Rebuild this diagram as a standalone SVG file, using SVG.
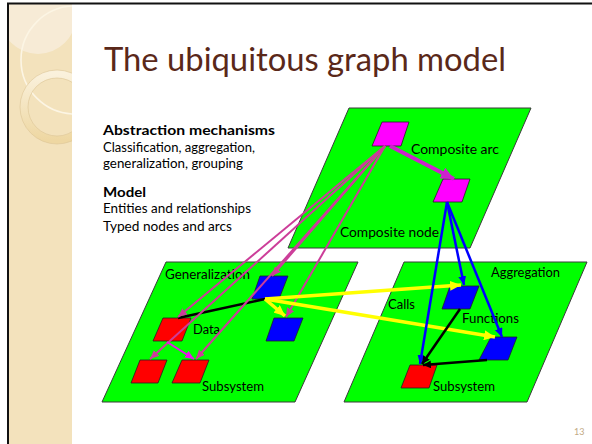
<svg xmlns="http://www.w3.org/2000/svg" width="592" height="444" viewBox="0 0 592 444">
<style>
.plane{fill:#00FF00;stroke:#3a3a3a;stroke-width:1}
.red{fill:#FF0000;stroke:#222;stroke-width:0.8}
.blue{fill:#0000FF;stroke:#222;stroke-width:0.8}
.mag{fill:#FF00FF;stroke:#222;stroke-width:0.8}
.lbl{font-family:"Lato","Liberation Sans",sans-serif;font-size:13.5px;fill:#000}
.body{font-family:"Lato","Liberation Sans",sans-serif;font-size:13.5px;fill:#000}
.b{font-weight:bold}
.pink{stroke:#CC3D99;stroke-width:2;fill:none;marker-end:url(#ah-pink)}
.yel{stroke:#FFFF00;stroke-width:3.5;fill:none;marker-end:url(#ah-yel)}
.blu{stroke:#0000FF;stroke-width:2.5;fill:none;marker-end:url(#ah-blue)}
.blk{stroke:#000;stroke-width:2.5;fill:none}
.blkh{marker-end:url(#ah-blk)}
</style>
<defs>
<marker id="ah-pink" markerUnits="userSpaceOnUse" markerWidth="10" markerHeight="8" refX="9" refY="4" orient="auto"><path d="M0,0 L9,4 L0,8 z" fill="#CC3D99"/></marker>
<marker id="ah-mag" markerUnits="userSpaceOnUse" markerWidth="10" markerHeight="8" refX="9" refY="4" orient="auto"><path d="M0,0 L9,4 L0,8 z" fill="#EE11EE"/></marker>
<marker id="ah-comp" markerUnits="userSpaceOnUse" markerWidth="14" markerHeight="12" refX="13" refY="6" orient="auto"><path d="M0,0 L13,6 L0,12 z" fill="#CC22CC"/></marker>
<marker id="ah-yel" markerUnits="userSpaceOnUse" markerWidth="12" markerHeight="10" refX="11" refY="5" orient="auto"><path d="M0,0 L11,5 L0,10 z" fill="#FFFF00"/></marker>
<marker id="ah-blue" markerUnits="userSpaceOnUse" markerWidth="10" markerHeight="8" refX="9" refY="4" orient="auto"><path d="M0,0 L9,4 L0,8 z" fill="#0000FF"/></marker>
<marker id="ah-blk" markerUnits="userSpaceOnUse" markerWidth="9" markerHeight="8" refX="8" refY="4" orient="auto"><path d="M0,0 L8,4 L0,8 z" fill="#000"/></marker>
<linearGradient id="ring" x1="0" y1="0" x2="0" y2="1"><stop offset="0" stop-color="#FAF1DC"/><stop offset="1" stop-color="#EED7A2"/></linearGradient>
<clipPath id="side"><rect x="8" y="3" width="64" height="441"/></clipPath>
</defs>
<rect width="592" height="444" fill="#FFFFFF"/>
<g id="sidebar">
<rect x="8" y="3" width="64" height="441" fill="#F3E2BC"/>
<g clip-path="url(#side)">
<circle cx="38" cy="16" r="38" fill="#F7EEDC" opacity="0.8"/>
<circle cx="75" cy="60" r="54" fill="none" stroke="#FCF5E4" stroke-width="1.6"/>
<circle cx="57" cy="107" r="33" fill="none" stroke="url(#ring)" stroke-width="8"/>
<circle cx="57" cy="107" r="37" fill="none" stroke="#DCC495" stroke-width="0.6"/>
<circle cx="57" cy="107" r="29" fill="none" stroke="#DCC495" stroke-width="0.6"/>
</g>
</g>
<path d="M8,444 L8,3.5 L592,3.5" fill="none" stroke="#111" stroke-width="2"/>
<text x="104" y="71" font-family="Lato,'Liberation Sans',sans-serif" font-size="33" fill="#5A2819" textLength="402" lengthAdjust="spacingAndGlyphs">The ubiquitous graph model</text>
<g id="textblock">
<text class="body b" x="103" y="135" textLength="172" lengthAdjust="spacingAndGlyphs">Abstraction mechanisms</text>
<text class="body" x="103" y="152" textLength="152" lengthAdjust="spacingAndGlyphs">Classification, aggregation,</text>
<text class="body" x="103" y="168" textLength="140" lengthAdjust="spacingAndGlyphs">generalization, grouping</text>
<text class="body b" x="103" y="197" textLength="43" lengthAdjust="spacingAndGlyphs">Model</text>
<text class="body" x="103" y="213" textLength="148" lengthAdjust="spacingAndGlyphs">Entities and relationships</text>
<text class="body" x="103" y="231" textLength="129" lengthAdjust="spacingAndGlyphs">Typed nodes and arcs</text>
</g>
<g id="plane-top"><polygon class="plane" points="349,108 531,108 470,248 288,248"/>
<text class="lbl" x="411" y="154" textLength="88" lengthAdjust="spacingAndGlyphs">Composite arc</text>
<text class="lbl" x="340" y="237" textLength="99" lengthAdjust="spacingAndGlyphs">Composite node</text></g>
<g id="plane-left"><polygon class="plane" points="166,262 358,262 295,402 102,402"/>
<text class="lbl" x="165" y="279" textLength="85" lengthAdjust="spacingAndGlyphs">Generalization</text>
<text class="lbl" x="193" y="334" textLength="27" lengthAdjust="spacingAndGlyphs">Data</text>
<text class="lbl" x="202" y="391" textLength="62" lengthAdjust="spacingAndGlyphs">Subsystem</text></g>
<g id="plane-right"><polygon class="plane" points="404,262 587,262 527,402 344,402"/>
<text class="lbl" x="491" y="277" textLength="69" lengthAdjust="spacingAndGlyphs">Aggregation</text>
<text class="lbl" x="388" y="309" textLength="27" lengthAdjust="spacingAndGlyphs">Calls</text>
<text class="lbl" x="462" y="323" textLength="57" lengthAdjust="spacingAndGlyphs">Functions</text>
<text class="lbl" x="433" y="391" textLength="62" lengthAdjust="spacingAndGlyphs">Subsystem</text></g>
<g id="node-m1"><polygon class="mag" points="382,122 409,122 401,146 372,146"/></g>
<g id="node-m2"><polygon class="mag" points="443,179 470,179 462,202 433,202"/></g>
<g id="node-b1"><polygon class="blue" points="260,276 288,276 279,299 252,299"/></g>
<g id="node-b2"><polygon class="blue" points="274,318 303,318 294,341 266,341"/></g>
<g id="node-data"><polygon class="red" points="163,318 191,318 182,341 153,341"/></g>
<g id="node-s1"><polygon class="red" points="140,360 167,360 158,383 131,383"/></g>
<g id="node-s2"><polygon class="red" points="182,360 209,360 200,383 172,383"/></g>
<g id="node-f1"><polygon class="blue" points="450,286 479,286 470,309 442,309"/></g>
<g id="node-f2"><polygon class="blue" points="491,337 517,337 508,360 479,360"/></g>
<g id="node-rs"><polygon class="red" points="410,365 437,365 429,388 401,388"/></g>
<g id="connectors">
<line x1="390" y1="146" x2="454" y2="179" stroke="#CC22CC" stroke-width="4" marker-end="url(#ah-comp)"/>
<line class="blk" x1="265" y1="299" x2="178" y2="318"/>
<line class="pink" x1="385" y1="146" x2="178" y2="317"/>
<line class="pink" x1="385" y1="146" x2="150" y2="359"/>
<line class="pink" x1="385" y1="146" x2="196" y2="359"/>
<line class="pink" x1="385" y1="146" x2="272" y2="276"/>
<line class="pink" x1="385" y1="146" x2="286" y2="317"/>
<line x1="167" y1="342" x2="194" y2="359" stroke="#EE11EE" stroke-width="2" marker-end="url(#ah-mag)"/>
<line class="yel" x1="265" y1="299" x2="285" y2="316"/>
<line class="yel" x1="265" y1="299" x2="461" y2="285"/>
<line class="yel" x1="265" y1="299" x2="495" y2="337"/>
<line class="blu" x1="447" y1="202" x2="420" y2="364"/>
<line class="blu" x1="447" y1="202" x2="464" y2="285"/>
<line class="blu" x1="447" y1="202" x2="502" y2="337"/>
<line class="blk blkh" x1="460" y1="309" x2="422" y2="364"/>
<line class="blk blkh" x1="487" y1="360" x2="423" y2="365"/>
</g>
<text x="574" y="435" font-family="Lato,'Liberation Sans',sans-serif" font-size="9" fill="#C2A984">13</text>
</svg>
